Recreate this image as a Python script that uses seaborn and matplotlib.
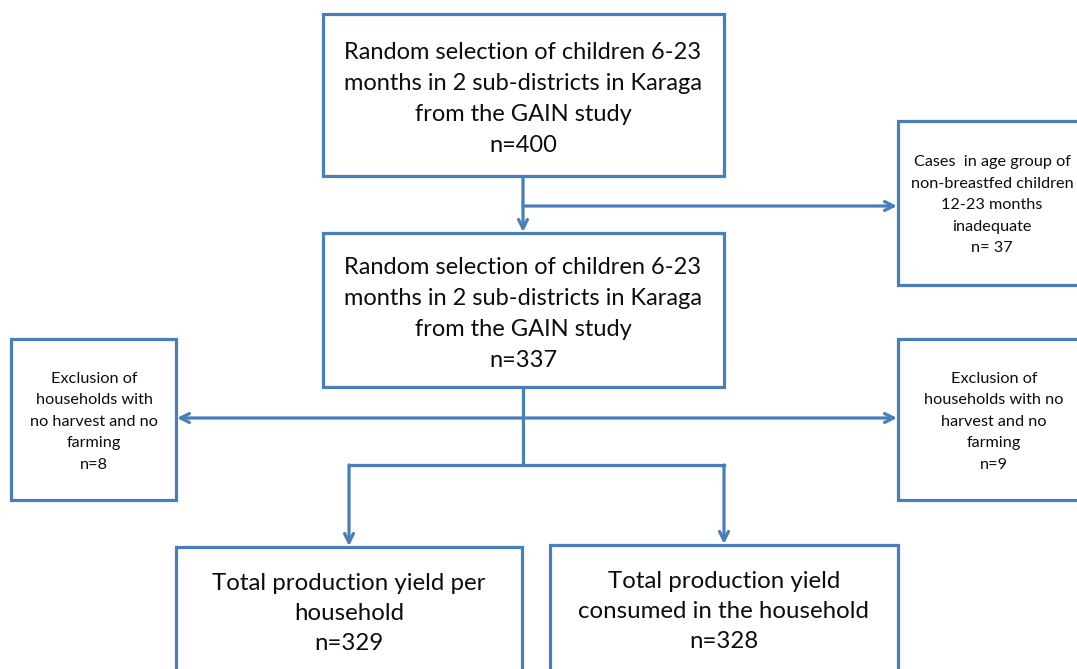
import matplotlib.pyplot as plt
import seaborn as sns
from matplotlib.patches import Rectangle

# ==========================================
# dados do fluxograma
# ==========================================
rotulos_caixas = {
    "topo": ["Random selection of children 6-23",
             "months in 2 sub-districts in Karaga",
             "from the GAIN study"],
    "meio": ["Random selection of children 6-23",
             "months in 2 sub-districts in Karaga",
             "from the GAIN study"],
    "excl_idade": ["Cases  in age group of", "non-breastfed children",
                   "12-23 months", "inadequate"],
    "excl_esq": ["Exclusion of", "households with", "no harvest and no", "farming"],
    "excl_dir": ["Exclusion of", "households with no", "harvest and no", "farming"],
    "prod_total": ["Total production yield per", "household"],
    "prod_consumo": ["Total production yield", "consumed in the household"],
}
contagens = {
    "topo": "n=400",
    "meio": "n=337",
    "excl_idade": "n= 37",
    "excl_esq": "n=8",
    "excl_dir": "n=9",
    "prod_total": "n=329",
    "prod_consumo": "n=328",
}

# layout em pixels: (x0, y0, x1, y1, centro_texto_x, centro_texto_y, passo_linha, fonte)
layout = {
    "topo": (323, 14, 724, 176, 523, 99, 31, 17),
    "meio": (323, 233, 724, 387, 523, 314, 31, 17),
    "excl_idade": (898, 121, 1095, 285, 992, 205, 21.5, 11.7),
    "excl_esq": (11, 339, 176, 500, 94, 422, 21.5, 11.7),
    "excl_dir": (898, 339, 1095, 500, 994, 422, 21.5, 11.7),
    "prod_total": (176, 547, 522, 700, 349, 613, 30, 17.3),
    "prod_consumo": (550, 545, 898, 700, 724, 611, 30, 17.3),
}

AZUL = "#4A7EBB"
LW = 2.3

sns.set_theme(style="white")
plt.rcParams['font.family'] = ['Lato', 'DejaVu Sans']

fig = plt.figure(figsize=(10.77, 6.69), dpi=100)
ax = fig.add_axes([0, 0, 1, 1])
ax.set_xlim(0, 1077)
ax.set_ylim(669, 0)
ax.axis('off')

for chave, linhas in rotulos_caixas.items():
    x0, y0, x1, y1, cx, cy, passo, fs = layout[chave]
    ax.add_patch(Rectangle((x0, y0), x1 - x0, y1 - y0, fill=True,
                           facecolor='white', edgecolor=AZUL, lw=LW, zorder=2))
    todas = linhas + [contagens[chave]]
    n = len(todas)
    for i, txt in enumerate(todas):
        ax.text(cx, cy + (i - (n - 1) / 2) * passo, txt, ha='center', va='center',
                fontsize=fs, color='#0d0d0d', zorder=3)


def linha(p, q):
    ax.plot([p[0], q[0]], [p[1], q[1]], color=AZUL, lw=LW,
            solid_capstyle='projecting', zorder=1)


def seta(p, q):
    ax.annotate('', xy=q, xytext=p,
                arrowprops=dict(arrowstyle='->', color=AZUL, lw=LW,
                                shrinkA=0, shrinkB=0, mutation_scale=16),
                zorder=1)


# conexões
seta((523, 176), (523, 232))
seta((523, 206), (897, 206))
linha((523, 387), (523, 465))
seta((523, 418), (177, 418))
seta((523, 418), (897, 418))
linha((349, 465), (724, 465))
seta((349, 465), (349, 546))
seta((724, 465), (724, 544))

plt.savefig("out.png", dpi=100)
plt.close()
